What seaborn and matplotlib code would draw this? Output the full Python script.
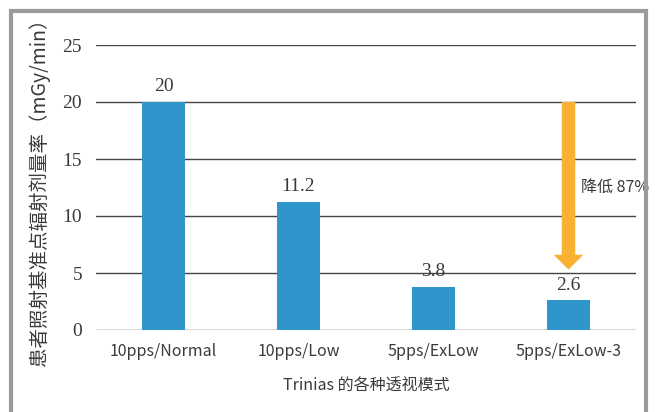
import matplotlib
matplotlib.use("Agg")
import matplotlib.pyplot as plt
import seaborn as sns
import pandas as pd
from matplotlib.patches import Rectangle, FancyArrow

categories = ["10pps/Normal", "10pps/Low", "5pps/ExLow", "5pps/ExLow-3"]
values = [20, 11.2, 3.8, 2.6]
value_labels = ["20", "11.2", "3.8", "2.6"]
yticks = [0, 5, 10, 15, 20, 25]
arrow_start = 20
arrow_end = 5.3
arrow_text = "降低 87%"
xlabel = "Trinias 的各种透视模式"
ylabel = "患者照射基准点辐射剂量率（mGy/min）"

sns.set_theme(style="white")
plt.rcParams['font.family'] = ['Noto Sans CJK SC', 'DejaVu Sans']

df = pd.DataFrame({"cat": categories, "val": values})

fig = plt.figure(figsize=(6.68, 4.12), dpi=100)
ax = fig.add_axes([96/668, 1-330/412, 540/668, 285/412])

sns.barplot(data=df, x="cat", y="val", color="#2E96CA", saturation=1, width=0.32, ax=ax,
            zorder=3, linewidth=0)

txt = "#3a3a3a"
ax.set_ylim(0, 25)
ax.set_xlim(-0.5, 3.5)
ax.set_yticks(yticks)
ax.set_yticklabels([str(t) for t in yticks], family=['Liberation Serif'], fontsize=14, color=txt)
for t in yticks:
    ax.axhline(t, color="#444444", lw=1.0, zorder=1)
for s in ax.spines.values():
    s.set_visible(False)
ax.tick_params(axis='y', length=0, pad=10)
ax.tick_params(axis='x', length=0, pad=9)
ax.set_xticks(range(len(categories)))
ax.set_xticklabels(categories, fontsize=11.5, color=txt)
ax.set_xlabel(xlabel, fontsize=11.5, color=txt, labelpad=13)
ax.set_ylabel(ylabel, fontsize=14, color=txt, labelpad=9)

for i, (v, lab) in enumerate(zip(values, value_labels)):
    ax.text(i, v + 0.6, lab, ha="center", va="bottom", family=['Liberation Serif'], fontsize=14, color=txt)

# arrow
ax.add_patch(FancyArrow(3, arrow_start, 0, arrow_end - arrow_start, width=0.1, head_width=0.22,
                        head_length=1.3, length_includes_head=True, color="#F8B133", zorder=4, lw=0))
ax.text(3.09, 12.5, arrow_text, ha="left", va="center", fontsize=11.5, color=txt)

# frame
fig.patches.append(Rectangle((11/668, -0.1), 635/668, 1.1 - 11/412, transform=fig.transFigure,
                             fill=False, edgecolor="#9A9A9A", lw=3))

fig.savefig("out.png", dpi=100)
